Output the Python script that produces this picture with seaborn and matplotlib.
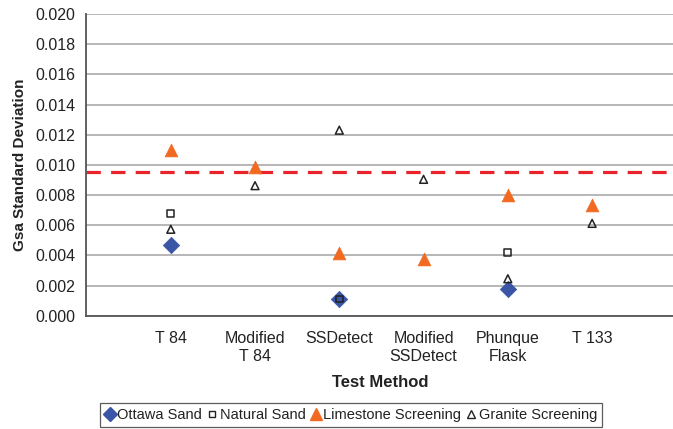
import numpy as np
import pandas as pd
import matplotlib
matplotlib.use("Agg")
import matplotlib.pyplot as plt
from matplotlib.lines import Line2D
import seaborn as sns

methods = ["T 84", "Modified\nT 84", "SSDetect", "Modified\nSSDetect", "Phunque\nFlask", "T 133"]
ottawa_sand = [0.00467, np.nan, 0.00111, np.nan, 0.00175, np.nan]
natural_sand = [0.0068, np.nan, 0.00111, np.nan, 0.0042, np.nan]
limestone_screening = [0.0110, 0.00988, 0.00414, 0.00374, 0.0080, 0.00734]
granite_screening = [0.00573, 0.00862, 0.0123, 0.00904, 0.00245, 0.00612]
limit_value = 0.0095

sns.set_theme(style="white")
plt.rcParams["font.family"] = ["Liberation Sans", "DejaVu Sans"]

fig = plt.figure(figsize=(6.73, 4.29), dpi=100)
ax = fig.add_axes([86.5 / 673, 1 - 315.7 / 429, 1 - 86.5 / 673, (315.7 - 14) / 429])

series = [
    ("Ottawa Sand", ottawa_sand, dict(marker="D", s=70, color="#3B55A6", edgecolor="#3B55A6", linewidth=0.5, zorder=3)),
    ("Natural Sand", natural_sand, dict(marker="s", s=24, facecolor="none", edgecolor="#222222", linewidth=1.1, zorder=4)),
    ("Limestone Screening", limestone_screening, dict(marker="^", s=85, color="#F26A22", edgecolor="#F26A22", linewidth=0.5, zorder=3)),
    ("Granite Screening", granite_screening, dict(marker="^", s=32, facecolor="none", edgecolor="#222222", linewidth=1.1, zorder=4)),
]

# numeric category positions keep every series aligned on the same slots
positions = np.arange(len(methods))
for name, vals, kw in series:
    df = pd.DataFrame({"pos": positions, "value": vals}).dropna()
    sns.scatterplot(data=df, x="pos", y="value", ax=ax, legend=False, **kw)

ax.axhline(limit_value, color="#E8232B", linewidth=2.3, dashes=(4.5, 3.2), zorder=2)

ax.set_xlim(-1, 5.96)
ax.set_xticks(positions)
ax.set_xticklabels(methods, fontsize=11.5, color="#222222", linespacing=1.25)
ax.set_ylim(0, 0.020)
yt = np.arange(0, 0.0201, 0.002)
ax.set_yticks(yt)
ax.set_yticklabels([f"{v:.3f}" for v in yt], fontsize=11.5, color="#222222")

ax.yaxis.grid(True, color="#AAAAAA", linewidth=1.2)
ax.set_axisbelow(True)
for side in ["top", "right"]:
    ax.spines[side].set_visible(False)
for side in ["left", "bottom"]:
    ax.spines[side].set_color("#555555")
    ax.spines[side].set_linewidth(1.3)
ax.tick_params(axis="both", direction="out", length=5, width=1.1, color="#555555", pad=3)
ax.tick_params(axis="x", pad=6)

ax.set_xlabel("Test Method", fontsize=12, fontweight="bold", color="#222222", labelpad=8)
ax.set_ylabel("Gsa Standard Deviation", fontsize=11, fontweight="bold", color="#222222", labelpad=6)

handles = [
    Line2D([], [], linestyle="none", marker="D", markersize=7, color="#3B55A6", label="Ottawa Sand"),
    Line2D([], [], linestyle="none", marker="s", markersize=5, markerfacecolor="none", markeredgecolor="#222222", markeredgewidth=1.0, label="Natural Sand"),
    Line2D([], [], linestyle="none", marker="^", markersize=9, color="#F26A22", label="Limestone Screening"),
    Line2D([], [], linestyle="none", marker="^", markersize=5.5, markerfacecolor="none", markeredgecolor="#222222", markeredgewidth=1.0, label="Granite Screening"),
]
leg = fig.legend(handles=handles, loc="center", bbox_to_anchor=(351 / 673, 1 - 415 / 429), ncol=4,
                 frameon=True, fancybox=False, edgecolor="#333333", fontsize=10.5,
                 handlelength=0.7, handletextpad=0.15, columnspacing=0.35, borderpad=0.35,
                 borderaxespad=0.2)
leg.get_frame().set_linewidth(0.9)
for t in leg.get_texts():
    t.set_color("#222222")

fig.savefig("out.png", dpi=100)
